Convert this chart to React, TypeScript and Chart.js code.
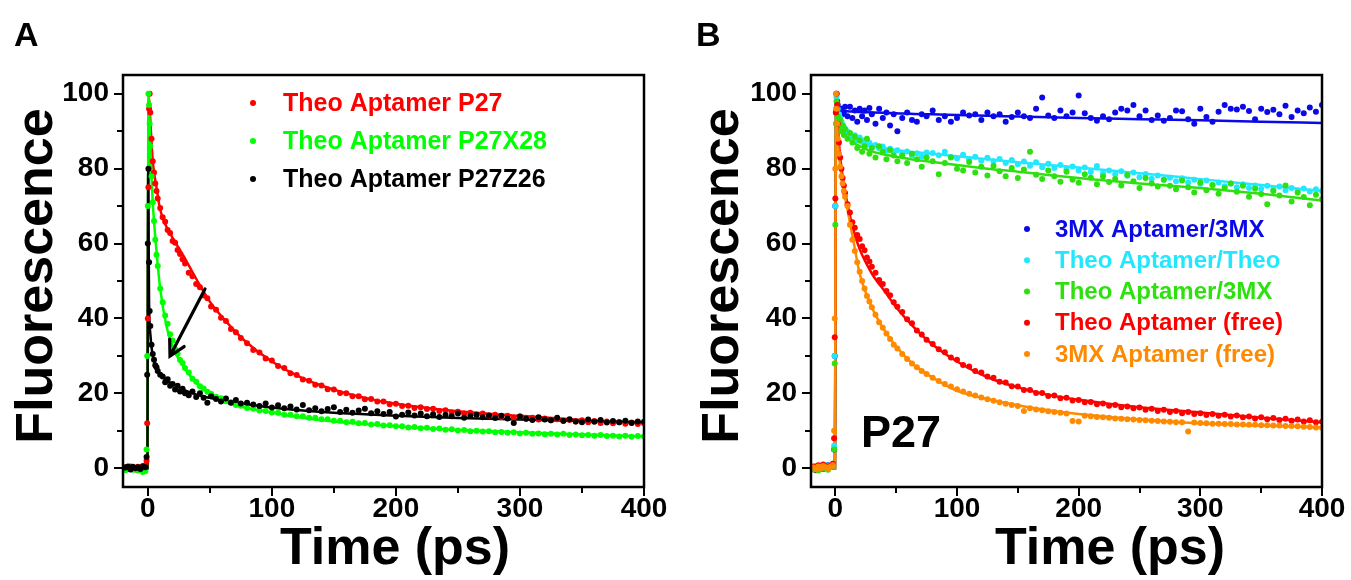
import React, { useEffect, useRef } from 'react';
import { Chart, registerables } from 'chart.js';

Chart.register(...registerables);

const FONT = "'Liberation Sans', Arial, Helvetica, sans-serif";

// ---------- axes ----------
const X_TICKS = [0, 50, 100, 150, 200, 250, 300, 350, 400];
const X_LABELS = [0, 100, 200, 300, 400];
const Y_TICKS = [0, 10, 20, 30, 40, 50, 60, 70, 80, 90, 100];
const Y_LABELS = [0, 20, 40, 60, 80, 100];

// ---------- shared measurement times (ps) ----------
const T = [
  -18, -16, -14, -12, -10, -8, -6, -4, -2,
  -1, -0.5, 0, 0.5, 1, 1.5,
  2, 3, 4, 5, 6, 7, 8,
  10, 12, 14, 16, 18, 20, 22, 24, 26, 28, 30,
  33, 36, 39, 42, 45, 48, 51,
  55, 59, 63, 67, 71, 75,
  80, 85, 90, 95, 100, 105, 110, 115, 120, 125,
  130, 135, 140, 145, 150, 155, 160, 165, 170, 175,
  180, 185, 190, 195, 200, 205, 210, 215, 220, 225,
  230, 235, 240, 245, 250, 255, 260, 265, 270, 275,
  280, 285, 290, 295, 300, 305, 310, 315, 320, 325,
  330, 335, 340, 345, 350, 355, 360, 365, 370, 375,
  380, 385, 390, 395, 400,
];

// ---------- panel A data ----------
const A_RED = [
  0.3, -0.2, 0.5, 0.1, -0.3, 0.4, 0.2, 0.6, 0.8,
  2, 12, 40, 75, 96, 100,
  95, 88, 82, 79, 76, 74, 72,
  69.5, 67, 65.8, 63.6, 62.8, 60.7, 60.2, 58.3, 57.2, 55.8, 54.7,
  52.2, 51.3, 49.2, 48.3, 46.1, 45.4, 43.2,
  42.3, 40.2, 39.3, 37.2, 36.3, 34.8,
  33.4, 31.6, 30.9, 29.3, 28.8, 27.3, 26.8, 25.4, 24.9, 23.7,
  23.4, 22.3, 22.1, 21.1, 21.0, 20.1, 20.0, 19.2, 19.2, 18.4,
  18.5, 17.8, 17.8, 17.1, 17.2, 16.6, 16.7, 16.1, 16.3, 15.8,
  15.9, 15.3, 15.5, 14.9, 15.1, 14.6, 14.8, 14.3, 14.6, 14.0,
  14.3, 13.7, 14.0, 13.5, 13.8, 13.2, 13.5, 13.0, 13.3, 12.8,
  13.1, 12.6, 12.9, 12.5, 12.8, 12.3, 12.6, 12.1, 12.5, 12.0,
  12.3, 11.9, 12.2, 11.8, 12.0,
];
const A_GREEN = [
  -0.5, -0.2, 0.2, -0.4, 0.1, -0.6, -0.3, -1.0, -0.8,
  5, 30, 70, 100, 97, 92,
  86, 78, 71, 66, 61, 57, 54,
  48, 44.3, 40.8, 38.6, 35.8, 34.1, 31.8, 30.6, 28.9, 28.1, 26.8,
  25.6, 23.9, 23.1, 21.9, 21.3, 20.4, 19.9,
  19.1, 18.7, 17.9, 17.6, 16.9, 16.7,
  16.1, 15.9, 15.4, 15.3, 14.9, 14.8, 14.3, 14.3, 13.9, 13.9,
  13.5, 13.5, 13.1, 13.1, 12.7, 12.7, 12.3, 12.4, 12.0, 12.1,
  11.7, 11.8, 11.4, 11.5, 11.2, 11.2, 10.9, 11.0, 10.7, 10.8,
  10.5, 10.6, 10.3, 10.4, 10.1, 10.2, 9.9, 10.0, 9.8, 9.9,
  9.6, 9.7, 9.5, 9.6, 9.3, 9.5, 9.2, 9.3, 9.1, 9.2,
  9.0, 9.2, 8.9, 9.0, 8.8, 8.9, 8.7, 8.9, 8.6, 8.7,
  8.5, 8.7, 8.4, 8.6, 8.5,
];
const A_BLACK = [
  0.2, 0.5, -0.3, 0.4, 0.0, 0.3, -0.2, 0.5, 0.3,
  3, 25, 60, 80, 55, 42,
  38, 33, 30.5, 29, 27.5, 27, 26,
  25, 24.5, 23, 23.8, 22, 22.5, 21, 22, 20.5, 21.2, 20,
  19.5, 20.5, 19, 20, 18.8, 17.5, 19.2,
  18.5, 17.8, 18.6, 17.5, 18.2, 17.3,
  17.5, 17.0, 16.6, 17.3, 16.2, 16.8, 16.0, 16.5, 15.7, 16.9,
  15.5, 16.0, 15.2, 15.8, 16.3, 15.0, 15.6, 14.8, 15.4, 15.9,
  14.7, 15.2, 14.5, 15.0, 13.8, 14.3, 14.9, 14.1, 14.6, 13.9,
  14.4, 13.7, 14.2, 13.9, 14.6, 13.5, 14.0, 14.3, 13.6, 14.1,
  13.4, 14.0, 13.3, 12.1, 13.8, 13.2, 12.9, 13.6, 13.0, 12.8,
  13.5, 12.7, 13.1, 12.5, 12.3, 13.0, 12.4, 12.9, 12.2, 12.6,
  12.3, 12.7, 12.1, 12.5, 12.4,
];

// ---------- panel B data ----------
const B_BLUE = [
  0.3, -0.5, 0.2, 0.6, -0.2, 0.4, 0.8, 0.5, 1.0,
  5, 30, 70, 95, 100, 98,
  97, 96, 95.5, 96, 94.5, 95, 96.5,
  94, 96.5, 93.5, 95.5, 92.5, 96, 94, 95.5, 93, 96.2, 94.5,
  92, 96, 93.5, 95, 91.5, 94.5, 90,
  93.5, 95, 93, 92.5, 94.5, 94,
  95.5, 93, 94, 92.5, 93.5, 95, 94.2, 94.5, 93, 95,
  94, 94.5, 92.5, 93.8, 95, 94, 93.5, 96, 99, 94.2,
  93.5, 95.5, 94, 95, 99.5, 94.8, 93.5, 92.8, 94, 93.2,
  95, 96, 95.5, 97, 94, 95.5, 93, 94.2, 92.8, 93.5,
  95.5, 95.3, 93.2, 92, 96, 93.8, 92.5, 95.2, 97, 96,
  95.8, 96.5, 95.4, 93.2, 96, 95.1, 95.7, 94.5, 96.8, 93.8,
  95.5, 94.8, 96.3, 95.2, 97,
];
const B_CYAN = [
  0.2, 0.6, -0.3, 0.5, 0.1, 0.8, 0.4, 0.9, 1.2,
  6, 30, 70, 96, 99, 97,
  96, 94.5, 93.5, 92.5, 91.5, 91, 90.5,
  89.8, 89.3, 88.2, 88.9, 87.6, 88.3, 87.1, 87.6, 86.4, 86.9, 85.8,
  86.3, 85.4, 85.9, 84.8, 85.3, 84.4, 84.9,
  84.0, 84.6, 83.5, 84.1, 83.2, 84.3,
  84.2, 83.6, 84.5, 83.1, 82.8, 83.7, 82.5, 83.2, 82.1, 82.9,
  82.0, 82.6, 81.5, 82.3, 81.2, 81.9, 80.8, 81.7, 80.4, 81.3,
  80.2, 81.0, 79.8, 80.6, 79.5, 80.3, 79.1, 80.7, 78.8, 79.5,
  78.5, 79.3, 78.1, 79.0, 77.7, 78.6, 77.3, 78.2, 77.0, 77.6,
  76.6, 77.4, 76.3, 77.0, 75.9, 76.8, 75.6, 76.3, 75.3, 76.0,
  75.0, 75.8, 74.8, 75.5, 74.6, 75.4, 74.4, 75.2, 74.2, 74.8,
  74.1, 74.7, 73.9, 74.5, 74.0,
];
const B_GREEN = [
  -0.3, 0.4, -0.6, 0.2, -0.1, 0.5, -0.4, 0.3, 0.6,
  5, 28, 65, 92, 98, 96,
  94, 92, 93, 90, 91.5, 89, 90.5,
  88, 89.5, 87, 88.5, 85.5, 87.5, 84.5, 86, 88, 84, 85.5,
  83, 86, 84.5, 82.5, 85, 83.5, 82,
  83.5, 81.5, 84, 82.5, 80.5, 83,
  82, 78.5, 81.5, 83, 80, 79.5, 81.8, 79, 80.5, 78.2,
  80.8, 79.3, 78, 80.2, 77.5, 79.8, 84.5, 78.4, 77.2, 79.5,
  78, 76.5, 79.2, 77, 76.2, 78.5, 77.6, 75.8, 77.9, 76.4,
  77.2, 75.5, 78.3, 76.6, 74.8, 77.5, 76, 75.2, 77, 75.4,
  74.5, 76.8, 75, 73.6, 76.3, 74.2, 75.6, 73.3, 74.8, 76,
  73.8, 75.4, 72.5, 74.6, 73.2, 70.5, 74, 72.8, 75.5, 71.2,
  73.6, 72.4, 70.2, 73, 71.8,
];
const B_RED = [
  0.5, 0.2, 0.8, 0.4, 1.0, 0.6, 0.3, 0.7, 1.2,
  8, 35, 72, 95, 100, 97,
  92, 87, 83, 80, 77.5, 75.5, 73.5,
  70.5, 68.3, 65.7, 64.2, 62.3, 61.2, 59.3, 58.2, 56.3, 55.2, 53.8,
  52.2, 50.3, 49.2, 47.3, 46.2, 44.3, 43.1,
  41.7, 39.8, 38.7, 36.8, 35.7, 34.3,
  33.2, 31.8, 31.0, 29.6, 29.0, 27.6, 27.2, 26.0, 25.6, 24.5,
  24.2, 23.1, 22.9, 21.9, 21.8, 20.9, 20.9, 20.1, 20.1, 19.3,
  19.4, 18.7, 18.8, 18.1, 18.2, 17.6, 17.7, 17.1, 17.3, 16.7,
  16.9, 16.3, 16.5, 16.0, 16.2, 15.6, 15.9, 15.3, 15.6, 15.0,
  15.3, 14.7, 15.0, 14.5, 14.7, 14.2, 14.5, 14.0, 14.3, 13.8,
  14.1, 13.6, 13.8, 13.3, 13.6, 13.1, 13.4, 12.9, 13.2, 12.7,
  13.0, 12.5, 12.8, 12.3, 12.4,
];
const B_ORANGE = [
  0.2, -0.3, 0.5, 0.0, 0.6, 0.3, -0.1, 0.4, 0.8,
  10, 40, 80, 100, 96, 92,
  88, 84, 80.5, 78, 76, 74, 72.5,
  70, 65, 61, 58, 55, 52.5, 50, 48, 46, 44.5, 43,
  41, 39, 37.5, 36, 34.5, 33, 32,
  30.5, 29.2, 28, 27, 26, 25.2,
  24.2, 23.3, 22.5, 21.8, 21.1, 20.5, 19.9, 19.4, 18.9, 18.4,
  18.0, 17.6, 17.2, 16.9, 16.6, 15.3, 16.0, 15.7, 15.5, 15.2,
  15.0, 14.8, 14.6, 12.6, 12.5, 14.0, 13.9, 13.7, 13.6, 13.5,
  13.3, 13.2, 13.1, 13.0, 12.9, 12.8, 12.7, 12.6, 12.5, 12.4,
  12.3, 12.3, 9.8, 12.2, 12.1, 12.0, 11.9, 11.9, 11.8, 11.8,
  11.7, 11.7, 11.6, 11.6, 11.5, 11.5, 11.4, 11.4, 11.3, 11.3,
  11.2, 11.1, 11.0, 10.9, 10.8,
];

// ---------- fitted curves ----------
const T_FIT = [-20, -0.3, 0, 0.3, 0.7, 1, 2, 4, 7, 10, 15, 20, 30, 40, 50, 65, 80, 100, 125, 150, 175, 200, 250, 300, 350, 400];
const A_RED_FIT = [0, 0, 30, 70, 95, 99, 93, 82, 75, 69, 64.5, 61.5, 56, 50, 44.5, 38.5, 33.5, 28.5, 24, 21, 18.8, 17.2, 15.2, 14, 12.9, 12];
const A_GREEN_FIT = [0, 0, 40, 85, 100, 97, 86, 71, 58, 48, 38, 32.5, 26.5, 22.5, 20, 17.4, 16.1, 14.9, 13.5, 12.5, 11.8, 11.2, 10.2, 9.6, 9.0, 8.5];
const A_BLACK_FIT = [0, 0, 50, 80, 60, 45, 36, 30, 27, 25, 23.5, 22.5, 20.8, 19.6, 18.8, 17.8, 17.1, 16.2, 15.4, 14.8, 14.4, 14.0, 13.4, 13.0, 12.6, 12.3];
const B_BLUE_FIT = [0, 0, 40, 85, 98, 99, 97, 96, 95.5, 95.3, 95.2, 95.1, 95, 94.9, 94.8, 94.6, 94.5, 94.3, 94.1, 93.9, 93.7, 93.5, 93.2, 92.9, 92.5, 92.2];
const B_CYAN_FIT = [0, 0, 40, 85, 98, 99, 96.5, 94, 92, 90.5, 89, 88, 86.5, 85.5, 85, 84.4, 84, 83.3, 82.5, 81.7, 81, 80.3, 78.8, 77.2, 75.6, 74];
const B_GREEN_FIT = [0, 0, 40, 85, 97, 98, 94, 91, 89.5, 88.5, 87, 86, 84.6, 83.8, 83.2, 82.4, 81.8, 81, 80, 79.2, 78.3, 77.5, 76, 74.8, 73.3, 71.5];
const B_RED_FIT = [0, 0, 35, 75, 96, 99, 92, 83, 76, 70.5, 63.5, 58.5, 52, 47.5, 43, 37.5, 33, 28.5, 24.3, 21.6, 19.6, 18.3, 16.3, 14.9, 13.5, 12.3];
const B_ORANGE_FIT = [0, 0, 40, 85, 100, 97, 88, 80.5, 74, 69, 60.5, 52, 43, 37, 32.5, 27.5, 24.2, 20.7, 18.5, 16.8, 15.5, 14.5, 13, 12, 11.4, 10.9];

const SERIES_A = [
  { label: 'Theo Aptamer P27', color: '#FF0000', pts: A_RED, fit: A_RED_FIT },
  { label: 'Theo Aptamer P27X28', color: '#00FF00', pts: A_GREEN, fit: A_GREEN_FIT },
  { label: 'Theo Aptamer P27Z26', color: '#000000', pts: A_BLACK, fit: A_BLACK_FIT },
];
const SERIES_B = [
  { label: '3MX Aptamer/3MX', color: '#0A0AE8', pts: B_BLUE, fit: B_BLUE_FIT },
  { label: 'Theo Aptamer/Theo', color: '#22E8FF', pts: B_CYAN, fit: B_CYAN_FIT },
  { label: 'Theo Aptamer/3MX', color: '#2EE010', pts: B_GREEN, fit: B_GREEN_FIT },
  { label: 'Theo Aptamer (free)', color: '#FF0000', pts: B_RED, fit: B_RED_FIT },
  { label: '3MX Aptamer (free)', color: '#FF8A00', pts: B_ORANGE, fit: B_ORANGE_FIT },
];

const decorPlugin = {
  id: 'decor',
  afterDraw(chart: any, _args: any, o: any) {
    const { ctx, chartArea: ca, scales } = chart;
    const xs = scales.x;
    const ys = scales.y;
    const ox = o.offsetX;
    ctx.save();
    ctx.strokeStyle = '#000';
    ctx.lineCap = 'butt';
    ctx.lineWidth = 2.5;
    ctx.strokeRect(ca.left, ca.top, ca.right - ca.left, ca.bottom - ca.top);
    ctx.lineWidth = 2;
    ctx.beginPath();
    for (const v of Y_TICKS) {
      const py = Math.round(ys.getPixelForValue(v));
      const len = Y_LABELS.includes(v) ? 9 : 6;
      ctx.moveTo(ca.left - len, py);
      ctx.lineTo(ca.left, py);
    }
    for (const v of X_TICKS) {
      const px = Math.round(xs.getPixelForValue(v));
      const len = X_LABELS.includes(v) ? 9 : 6;
      ctx.moveTo(px, ca.bottom);
      ctx.lineTo(px, ca.bottom + len);
    }
    ctx.stroke();

    ctx.fillStyle = '#000';
    // panel letter
    ctx.font = `bold ${o.letter.size}px ${FONT}`;
    ctx.textAlign = 'left';
    ctx.textBaseline = 'alphabetic';
    ctx.fillText(o.letter.text, o.letter.x - ox, o.letter.y);
    // axis titles
    ctx.font = `bold ${o.titleSize}px ${FONT}`;
    ctx.textAlign = 'center';
    ctx.fillText('Time (ps)', o.xTitle.x - ox, o.xTitle.y);
    ctx.save();
    ctx.translate(o.yTitle.x - ox, o.yTitle.y);
    ctx.rotate(-Math.PI / 2);
    ctx.fillText('Fluorescence', 0, 0);
    ctx.restore();
    // legend
    const lg = o.legend;
    ctx.font = `bold ${lg.size}px ${FONT}`;
    ctx.textAlign = 'left';
    ctx.textBaseline = 'middle';
    lg.items.forEach((it: any, i: number) => {
      const y = lg.y0 + i * lg.dy;
      ctx.fillStyle = it.color;
      ctx.beginPath();
      ctx.arc(lg.markerX - ox, y, 3, 0, Math.PI * 2);
      ctx.fill();
      ctx.fillText(it.label, lg.textX - ox, y + 1);
    });
    // extra note
    if (o.note) {
      ctx.fillStyle = '#000';
      ctx.font = `bold ${o.note.size}px ${FONT}`;
      ctx.textBaseline = 'alphabetic';
      ctx.fillText(o.note.text, o.note.x - ox, o.note.y);
    }
    // arrow
    if (o.arrow) {
      const a = o.arrow;
      const x1 = a.x1 - ox, y1 = a.y1, x2 = a.x2 - ox, y2 = a.y2;
      const ang = Math.atan2(y2 - y1, x2 - x1);
      ctx.strokeStyle = '#000';
      ctx.lineWidth = 3.2;
      ctx.lineCap = 'round';
      ctx.beginPath();
      ctx.moveTo(x1, y1);
      ctx.lineTo(x2, y2);
      const hl = 17;
      ctx.moveTo(x2 - hl * Math.cos(ang - 0.5), y2 - hl * Math.sin(ang - 0.5));
      ctx.lineTo(x2, y2);
      ctx.lineTo(x2 - hl * Math.cos(ang + 0.5), y2 - hl * Math.sin(ang + 0.5));
      ctx.stroke();
    }
    ctx.restore();
  },
};

function buildConfig(series: any[], decor: any, yWidth: number, rightPad: number) {
  const datasets: any[] = [];
  series.forEach((s, i) => {
    datasets.push({
      type: 'scatter',
      label: s.label,
      data: T.map((t, j) => ({ x: t, y: s.pts[j] })),
      pointRadius: 3,
      pointBackgroundColor: s.color,
      pointBorderWidth: 0,
      showLine: false,
      order: series.length - i,
    });
  });
  series.forEach((s, i) => {
    datasets.push({
      type: 'line',
      label: s.label + ' fit',
      data: T_FIT.map((t, j) => ({ x: t, y: s.fit[j] })),
      borderColor: s.color,
      borderWidth: 2.5,
      pointRadius: 0,
      fill: false,
      cubicInterpolationMode: 'monotone',
      order: 60 - i,
    });
  });
  const tickFont = { family: FONT, size: 28, weight: 'bold' as const };
  return {
    type: 'scatter' as const,
    data: { datasets },
    options: {
      responsive: false,
      animation: false as const,
      devicePixelRatio: 1,
      layout: { padding: { left: 0, top: 75, right: rightPad, bottom: 0 } },
      plugins: {
        legend: { display: false },
        tooltip: { enabled: false },
        decor,
      },
      scales: {
        x: {
          type: 'linear' as const,
          min: -20,
          max: 400,
          afterBuildTicks: (s: any) => { s.ticks = X_TICKS.map((v) => ({ value: v })); },
          afterFit: (s: any) => { s.height = 93; },
          grid: { display: false, drawTicks: false },
          border: { display: false },
          ticks: {
            autoSkip: false,
            maxRotation: 0,
            padding: 5,
            color: '#000',
            font: tickFont,
            callback: (v: any) => (X_LABELS.includes(Number(v)) ? String(v) : ''),
          },
        },
        y: {
          type: 'linear' as const,
          min: -5,
          max: 105,
          afterBuildTicks: (s: any) => { s.ticks = Y_TICKS.map((v) => ({ value: v })); },
          afterFit: (s: any) => { s.width = yWidth; },
          grid: { display: false, drawTicks: false },
          border: { display: false },
          ticks: {
            autoSkip: false,
            padding: 14,
            color: '#000',
            font: tickFont,
            callback: (v: any) => (Y_LABELS.includes(Number(v)) ? String(v) : ''),
          },
        },
      },
    },
    plugins: [decorPlugin],
  };
}

const A_LEFT = 0;
const B_LEFT = 690;

export default function App() {
  const refA = useRef<HTMLCanvasElement | null>(null);
  const refB = useRef<HTMLCanvasElement | null>(null);

  useEffect(() => {
    const decorA = {
      offsetX: A_LEFT,
      letter: { text: 'A', x: 14, y: 46, size: 34 },
      titleSize: 52,
      xTitle: { x: 395, y: 564 },
      yTitle: { x: 52, y: 276 },
      legend: { markerX: 253, textX: 283, y0: 103, dy: 38, size: 25, items: SERIES_A },
      arrow: { x1: 205, y1: 289, x2: 170, y2: 356 },
    };
    const decorB = {
      offsetX: B_LEFT,
      letter: { text: 'B', x: 696, y: 46, size: 34 },
      titleSize: 52,
      xTitle: { x: 1110, y: 564 },
      yTitle: { x: 738, y: 276 },
      legend: { markerX: 1027, textX: 1055, y0: 229, dy: 31.25, size: 24, items: SERIES_B },
      note: { text: 'P27', x: 861, y: 447, size: 45 },
    };
    const chA = new Chart(refA.current as HTMLCanvasElement, buildConfig(SERIES_A, decorA, 123, 690 - 644) as any);
    const chB = new Chart(refB.current as HTMLCanvasElement, buildConfig(SERIES_B, decorB, 811 - B_LEFT, 700 - (1322 - B_LEFT)) as any);
    return () => {
      chA.destroy();
      chB.destroy();
    };
  }, []);

  return (
    <div style={{ position: 'absolute', left: 0, top: 0, width: 1351, height: 580, overflow: 'hidden', background: '#fff' }}>
      <canvas ref={refA} width={690} height={580} style={{ position: 'absolute', left: A_LEFT, top: 0 }} />
      <canvas ref={refB} width={700} height={580} style={{ position: 'absolute', left: B_LEFT, top: 0 }} />
    </div>
  );
}
